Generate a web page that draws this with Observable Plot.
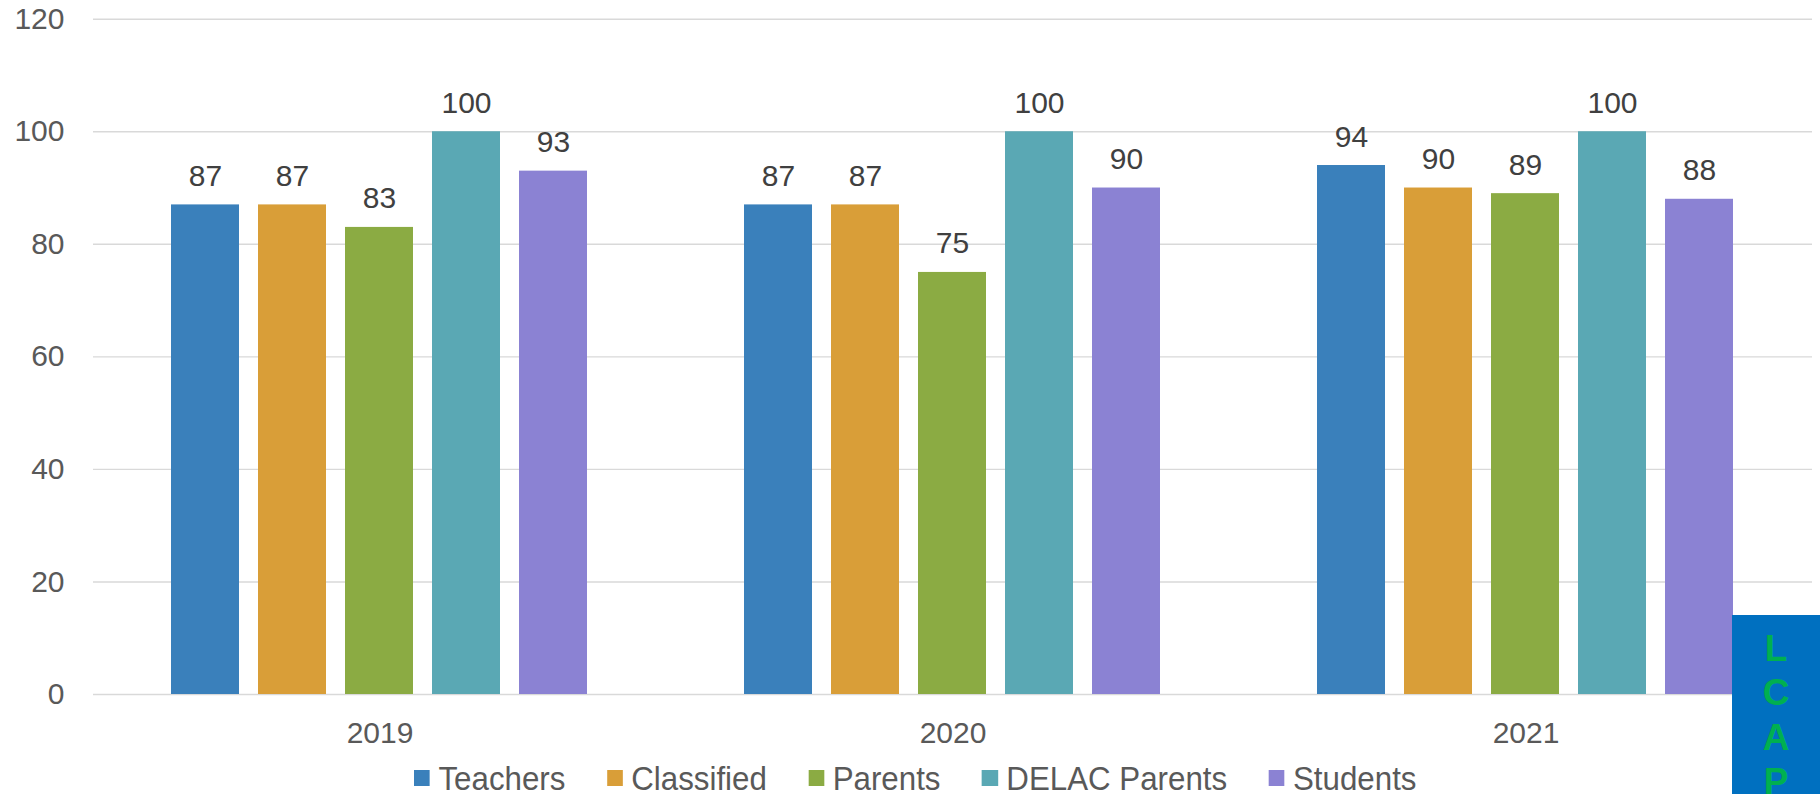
<!DOCTYPE html>
<html>
<head>
<meta charset="utf-8">
<script src="https://cdn.jsdelivr.net/npm/d3@7"></script>
<script src="https://cdn.jsdelivr.net/npm/@observablehq/plot@0.6"></script>
<style>
  html, body { margin: 0; padding: 0; background: #fff; }
  #wrap { position: relative; width: 1820px; height: 794px; overflow: hidden; font-family: "Liberation Sans", Arial, sans-serif; }
  #chart { position: absolute; left: 0; top: 0; }
  #legend { position: absolute; left: 414px; top: 761px; display: flex; align-items: center; font-size: 34px; line-height: 34px; color: #595959; white-space: nowrap; transform: scaleX(0.92); transform-origin: left center; }
  #legend .item { display: flex; align-items: center; margin-right: 45px; }
  #legend .sw { width: 17.4px; height: 16px; margin-right: 9.2px; }
  #lcap { position: absolute; left: 1732px; top: 615px; width: 88px; height: 179px; background: #0070C0; color: #00B050; font-weight: bold; font-size: 37px; line-height: 44.5px; text-align: center; padding-top: 11.5px; box-sizing: border-box; }
</style>
</head>
<body>
<div id="wrap">
  <div id="chart"></div>
  <div id="legend"></div>
  <div id="lcap"></div>
</div>
<script>
const years = ["2019", "2020", "2021"];
const series = ["Teachers", "Classified", "Parents", "DELAC Parents", "Students"];
const teachers = [87, 87, 94];
const classified = [87, 87, 90];
const parents = [83, 75, 89];
const delacParents = [100, 100, 100];
const students = [93, 90, 88];
const colors = ["#3A80BB", "#D99E38", "#8BAB43", "#5AA8B4", "#8B82D3"];
const yTicks = [0, 20, 40, 60, 80, 100, 120];
const lcapLetters = ["L", "C", "A", "P"];

const seriesValues = [teachers, classified, parents, delacParents, students];
const data = years.flatMap((yr, i) => series.map((s, j) => ({year: yr, series: s, value: seriesValues[j][i]})));

const font = '"Liberation Sans", Arial, sans-serif';

const chart = Plot.plot({
  width: 1820,
  height: 752,
  marginTop: 18.7,
  marginBottom: 58,
  marginLeft: 92,
  marginRight: 8,
  style: {fontFamily: font, fontSize: "30px", background: "transparent"},
  fx: {domain: years, padding: 0, label: null},
  x: {domain: series, paddingInner: 0.216, paddingOuter: 0.8655, axis: null},
  y: {domain: [0, 120], label: null},
  color: {domain: series, range: colors},
  marks: [
    Plot.gridY(yTicks, {stroke: "#d9d9d9", strokeOpacity: 1, strokeWidth: 1.4}),
    Plot.barY(data, {fx: "year", x: "series", y: "value", fill: "series"}),
    Plot.text(data, {fx: "year", x: "series", y: "value", text: d => String(d.value), dy: -19, lineAnchor: "bottom", fill: "#404040", fontSize: 30}),
    Plot.axisY(yTicks, {tickSize: 0, tickPadding: 29, fontSize: 30, fill: "#595959", label: null}),
    Plot.axisFx({anchor: "bottom", tickSize: 0, tickPadding: 27, fontSize: 30, fill: "#595959", label: null})
  ]
});
document.getElementById("chart").appendChild(chart);

const legend = document.getElementById("legend");
series.forEach((s, i) => {
  const item = document.createElement("div");
  item.className = "item";
  const sw = document.createElement("span");
  sw.className = "sw";
  sw.style.background = colors[i];
  const lab = document.createElement("span");
  lab.textContent = s;
  item.appendChild(sw);
  item.appendChild(lab);
  legend.appendChild(item);
});

const lcap = document.getElementById("lcap");
lcapLetters.forEach(c => {
  const d = document.createElement("div");
  d.textContent = c;
  lcap.appendChild(d);
});
</script>
</body>
</html>
